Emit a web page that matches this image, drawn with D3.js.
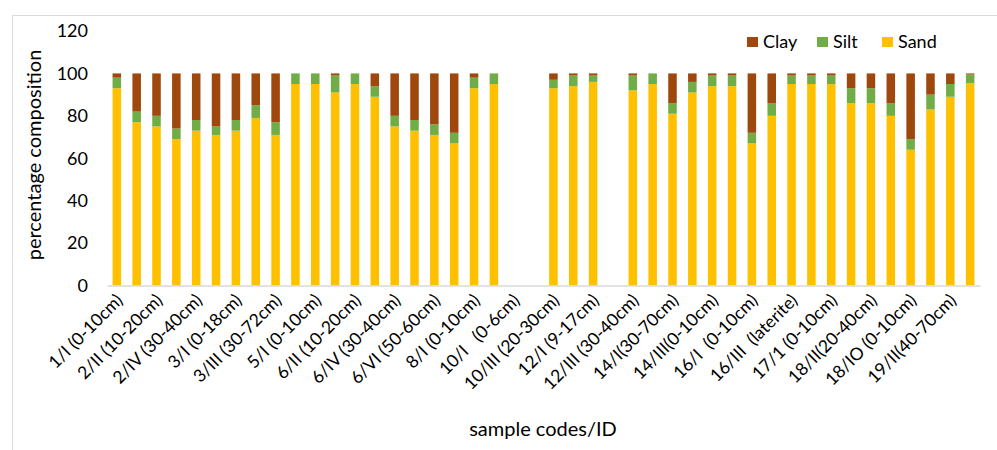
<!DOCTYPE html>
<meta charset="utf-8">
<style>
	body { margin: 0; background: #fff; }
	text { font-family: Lato, 'Open Sans', sans-serif; fill: #000; }
</style>
<script src="https://cdn.jsdelivr.net/npm/d3@7"></script>
<body>
<div id="chart"></div>
<script>
	// tick labels, shown on every other slot
	let labels = ["1/I (0-10cm)", "2/II (10-20cm)", "2/IV (30-40cm)", "3/I (0-18cm)", "3/III (30-72cm)",
		"5/I (0-10cm)", "6/II (10-20cm)", "6/IV (30-40cm)", "6/VI (50-60cm)", "8/I (0-10cm)",
		"10/I   (0-6cm)", "10/III (20-30cm)", "12/I (9-17cm)", "12/III (30-40cm)", "14/I(30-70cm)",
		"14/III(0-10cm)", "16/I  (0-10cm)", "16/III  (laterite)", "17/1 (0-10cm)", "18/II(20-40cm)",
		"18/IO (0-10cm)", "19/II(40-70cm)"];

	// one value per slot, null = no bar
	let sand = [93, 77, 75, 69, 73, 71, 73, 79, 71, 95, 95, 91, 95, 89, 75, 73, 71, 67, 93, 95,
		null, null, 93, 94, 96, null, 92, 95, 81, 91, 94, 94, 67, 80, 95, 95, 95, 86, 86, 80, 64, 83, 89, 95.5];
	let silt = [5, 5, 5, 5, 5, 4, 5, 6, 6, 5, 5, 8, 5, 5, 5, 5, 5, 5, 5, 5,
		null, null, 4, 5, 3, null, 7, 5, 5, 5, 5, 5, 5, 6, 4, 4, 4, 7, 7, 6, 5, 7, 6, 4];
	let clay = [2, 18, 20, 26, 22, 25, 22, 15, 23, 0, 0, 1, 0, 6, 20, 22, 24, 28, 2, 0,
		null, null, 3, 1, 1, null, 1, 0, 14, 4, 1, 1, 28, 14, 1, 1, 1, 7, 7, 14, 31, 10, 5, 0.5];

	let series = ["Sand", "Silt", "Clay"];
	let colors = { Sand: "#FFC000", Silt: "#70AD47", Clay: "#9E480E" };
	let yTicks = [0, 20, 40, 60, 80, 100, 120];

	let W = 997, H = 450;
	let margin = { top: 31, right: 17, bottom: 164.5, left: 107 };

	let svg = d3.select("#chart").append("svg")
		.attr("width", W)
		.attr("height", H);

	// frame
	svg.append("path")
		.attr("d", "M12.5," + H + "V15.5H" + W)
		.attr("fill", "none")
		.attr("stroke", "#d9d9d9");

	let rows = sand.map((s, i) => ({ i: i, Sand: s || 0, Silt: silt[i] || 0, Clay: clay[i] || 0, empty: s == null }));

	let x = d3.scaleBand()
		.domain(d3.range(sand.length))
		.range([margin.left, W - margin.right])
		.paddingInner(0.57)
		.paddingOuter(0.28);

	let y = d3.scaleLinear()
		.domain([0, 120])
		.range([H - margin.bottom, margin.top]);

	let stack = d3.stack().keys(series)(rows.filter(d => !d.empty));

	svg.append("g")
		.selectAll("g")
		.data(stack)
		.join("g")
		.attr("fill", d => colors[d.key])
		.selectAll("rect")
		.data(d => d)
		.join("rect")
		.attr("x", d => x(d.data.i))
		.attr("width", x.bandwidth())
		.attr("y", d => y(d[1]))
		.attr("height", d => y(d[0]) - y(d[1]));

	// x axis
	let xAxis = svg.append("g")
		.attr("transform", "translate(0," + (H - margin.bottom) + ")")
		.call(d3.axisBottom(x)
			.tickValues(d3.range(0, sand.length, 2))
			.tickFormat(i => labels[i / 2])
			.tickSize(0));
	xAxis.select(".domain").attr("stroke", "#d9d9d9").attr("stroke-width", 1.5);
	xAxis.selectAll("text")
		.attr("font-size", 17.5)
		.attr("text-anchor", "end")
		.attr("dy", null)
		.attr("y", 0)
		.attr("transform", "translate(7,16) rotate(-45)")
		.style("white-space", "pre");

	// y axis
	let yAxis = svg.append("g")
		.attr("transform", "translate(" + margin.left + ",0)")
		.call(d3.axisLeft(y).tickValues(yTicks).tickSize(0).tickPadding(19));
	yAxis.select(".domain").remove();
	yAxis.selectAll("text").attr("font-size", 18);

	svg.append("text")
		.attr("transform", "translate(41,155) rotate(-90)")
		.attr("text-anchor", "middle")
		.attr("font-size", 20)
		.text("percentage composition");

	svg.append("text")
		.attr("x", 543)
		.attr("y", 436)
		.attr("text-anchor", "middle")
		.attr("font-size", 20)
		.text("sample codes/ID");

	// legend
	let legendItems = [["Clay", 747], ["Silt", 817], ["Sand", 882]];
	let legend = svg.append("g").selectAll("g")
		.data(legendItems)
		.join("g")
		.attr("transform", d => "translate(" + d[1] + ",37)");
	legend.append("rect")
		.attr("width", 11)
		.attr("height", 10)
		.attr("fill", d => colors[d[0]]);
	legend.append("text")
		.attr("x", 16)
		.attr("y", 11)
		.attr("font-size", 18)
		.text(d => d[0]);
</script>
</body>
